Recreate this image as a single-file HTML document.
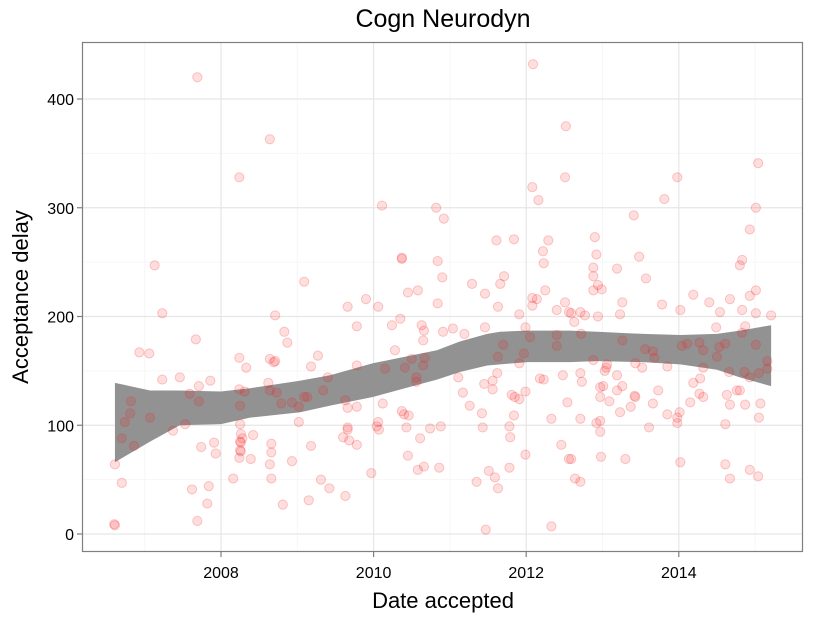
<!DOCTYPE html>
<html><head><meta charset="utf-8"><style>
html,body{margin:0;padding:0;background:#fff;}
svg{display:block;font-family:"Liberation Sans",Arial,sans-serif;}
</style></head><body>
<svg id="chart" width="825" height="618" viewBox="0 0 825 618">
<rect width="825" height="618" fill="#fff"/>
<g id="grid"></g>
<g id="band"></g>
<g id="pts"></g>
<rect x="82.5" y="42.5" width="720" height="509" fill="none" stroke="#7f7f7f" stroke-width="1.2"/>
<g id="axes"></g>
<text x="443" y="27" text-anchor="middle" font-size="25" fill="#000">Cogn Neurodyn</text>
<text x="443" y="608" text-anchor="middle" font-size="22" fill="#000">Date accepted</text>
<text transform="translate(28,297) rotate(-90)" text-anchor="middle" font-size="22" fill="#000">Acceptance delay</text>
</svg>
<script>
const yearVals=[2007.69,2008.64,2008.24,2007.13,2009.09,2007.23,2008.71,2007.67,2008.83,2008.87,2006.93,2007.06,2008.24,2008.64,2008.69,2008.71,2008.33,2009.27,2009.18,2007.23,2007.46,2007.71,2007.86,2007.59,2008.24,2008.31,2008.62,2008.64,2008.73,2009.40,2006.82,2007.71,2006.81,2006.74,2007.07,2007.53,2007.37,2006.70,2006.86,2008.25,2008.25,2008.79,2008.93,2009.02,2009.09,2009.13,2009.34,2009.02,2008.26,2008.28,2008.25,2008.26,2008.25,2008.26,2008.42,2007.91,2007.74,2007.93,2008.24,2008.39,2008.66,2008.66,2008.64,2008.93,2009.18,2006.61,2006.70,2008.16,2008.66,2007.62,2007.84,2009.31,2009.42,2007.82,2008.81,2009.15,2007.69,2006.61,2006.60,
2012.09,2012.52,2012.51,2012.08,2012.16,2010.11,2010.82,2010.92,2011.61,2011.84,2012.29,2012.22,2012.23,2010.37,2010.37,2010.84,2010.90,2011.29,2011.66,2011.71,2010.45,2010.58,2011.46,2012.25,2009.90,2009.66,2010.06,2010.84,2011.63,2012.08,2012.14,2012.08,2012.51,2012.40,2012.56,2009.78,2010.24,2010.35,2010.63,2010.66,2010.65,2010.91,2011.04,2011.19,2011.46,2011.91,2011.99,2012.05,2012.40,2012.40,2010.28,2010.50,2010.67,2010.41,2010.65,2010.15,2010.56,2010.56,2011.70,2011.63,2011.97,2011.91,2009.78,2009.63,2009.66,2009.78,2010.12,2011.11,2011.62,2011.56,2011.45,2011.56,2011.17,2011.26,2011.42,2011.81,2011.85,2011.91,2011.99,2011.84,2011.78,2011.79,2011.43,2012.18,2012.23,2012.48,2012.54,2012.33,2012.46,2012.56,2011.99,2010.37,2010.40,2010.46,2010.06,2010.04,2010.07,2010.43,2010.74,2010.88,2009.66,2009.66,2009.60,2009.68,2009.78,2010.61,2010.45,2009.97,2010.58,2010.66,2010.86,2011.78,2011.51,2011.59,2011.35,2011.63,2009.63,2011.47,2012.33,
2015.04,2013.98,2013.81,2015.01,2013.41,2014.93,2012.90,2012.92,2013.48,2014.83,2014.80,2013.19,2012.88,2012.88,2013.57,2012.94,2012.99,2012.88,2014.19,2015.01,2014.93,2014.67,2014.40,2013.26,2013.78,2014.02,2014.83,2014.54,2015.01,2015.21,2013.23,2012.59,2012.71,2012.77,2012.63,2012.94,2014.49,2014.87,2014.83,2012.72,2013.26,2013.56,2013.66,2013.68,2014.04,2014.11,2014.27,2014.32,2014.53,2014.61,2014.50,2015.01,2012.88,2013.43,2013.06,2013.05,2013.03,2013.19,2013.52,2013.85,2014.32,2014.66,2014.86,2015.05,2015.16,2015.16,2014.93,2012.71,2012.73,2014.28,2014.19,2013.01,2012.97,2013.26,2013.19,2012.97,2013.09,2013.42,2013.43,2013.73,2014.27,2014.32,2014.76,2014.80,2014.63,2014.67,2014.87,2015.07,2014.15,2013.66,2013.37,2013.23,2013.85,2014.01,2013.98,2013.98,2015.05,2014.61,2012.71,2012.97,2012.92,2012.97,2013.61,2012.59,2012.98,2013.30,2014.02,2014.61,2014.93,2015.04,2014.67,2012.64,2012.71];
const delayVals=[420,363,328,247,232,203,201,179,186,176,167,166,162,161,158,159,153,164,154,142,144,136,141,129,133,131,139,132,130,144,122,122,111,103,107,101,95,88,81,118,101,120,121,117,126,126,132,103,92,88,85,84,77,76,91,84,80,74,70,69,83,75,64,67,81,64,47,51,51,41,44,50,42,28,27,31,12,8,9,
432,375,328,319,307,302,300,290,270,271,270,260,249,254,253,251,236,230,230,237,222,224,221,224,216,209,209,212,209,217,216,210,213,206,204,191,192,198,192,187,178,186,189,184,190,202,190,181,183,173,169,161,162,153,155,152,144,140,174,163,166,157,155,123,116,117,120,144,148,141,138,133,130,118,111,128,126,124,131,109,99,89,98,143,142,146,121,106,82,69,73,113,110,109,103,99,96,98,97,99,98,96,89,86,82,88,72,56,59,62,61,61,58,52,48,42,35,4,7,
341,328,308,300,293,280,273,257,255,252,247,244,245,237,235,229,225,224,220,224,219,216,213,213,211,206,206,204,203,201,202,203,204,201,195,200,190,191,185,184,178,170,168,162,173,175,176,169,172,175,163,174,160,157,156,153,150,146,153,154,153,149,149,148,159,152,144,148,140,143,139,136,135,136,132,126,122,127,126,132,129,126,132,132,128,119,119,120,121,120,117,112,110,112,107,102,107,101,106,104,102,94,98,69,71,69,66,64,59,53,51,51,48];
const bandYears=[2006.61,2007.07,2007.46,2008.0,2008.38,2009.04,2009.43,2009.99,2010.83,2011.13,2011.49,2011.66,2012.01,2012.57,2012.93,2013.53,2014.02,2014.50,2014.80,2015.21];
const bandUpper=[139,132,132,131,134,141,146,157,169,177,184,186,187,187,186,184,183,184,187,192];
const bandLower=[66,85,100,101,107,112,118,126,142,149,155,156,158,158,159,158,156,151,144,136];
const xTicks=[2008,2010,2012,2014];
const xMinor=[2007,2009,2011,2013,2015];
const yTicks=[0,100,200,300,400];
const yMinor=[50,150,250,350];

const NS="http://www.w3.org/2000/svg";
function xS(v){return 221+(v-2008)*76.3;}
function yS(v){return 534-v*1.0875;}
function mk(tag,attrs,parent){const e=document.createElementNS(NS,tag);for(const k in attrs)e.setAttribute(k,attrs[k]);parent.appendChild(e);return e;}
const grid=document.getElementById('grid'),band=document.getElementById('band'),pts=document.getElementById('pts'),axes=document.getElementById('axes');
yMinor.forEach(v=>{const l=mk('line',{x1:83,x2:802,y1:yS(v),y2:yS(v),stroke:'#f6f6f6','stroke-width':1},grid);

});
xMinor.forEach(v=>{const l=mk('line',{x1:xS(v),x2:xS(v),y1:43,y2:551,stroke:'#f6f6f6','stroke-width':1},grid);

});
yTicks.forEach(v=>{const l=mk('line',{x1:83,x2:802,y1:yS(v),y2:yS(v),stroke:'#e6e6e6','stroke-width':1.2},grid);


const t=mk('line',{x1:77,x2:82,y1:yS(v),y2:yS(v),stroke:'#7f7f7f','stroke-width':1.2},axes);


const tx=mk('text',{x:74,y:yS(v)+6,'text-anchor':'end','font-size':16,fill:'#000'},axes);tx.textContent=v;

});
xTicks.forEach(v=>{const l=mk('line',{x1:xS(v),x2:xS(v),y1:43,y2:551,stroke:'#e6e6e6','stroke-width':1.2},grid);


const t=mk('line',{x1:xS(v),x2:xS(v),y1:552,y2:557,stroke:'#7f7f7f','stroke-width':1.2},axes);


const tx=mk('text',{x:xS(v),y:578,'text-anchor':'middle','font-size':16,fill:'#000'},axes);tx.textContent=v;

});
let d='';
bandYears.forEach((y,i)=>{d+=(i?'L':'M')+xS(y)+','+yS(bandUpper[i]);});
for(let i=bandYears.length-1;i>=0;i--)d+='L'+xS(bandYears[i])+','+yS(bandLower[i]);
const p=mk('path',{d:d+'Z',fill:'#929292'},band);


yearVals.forEach((y,i)=>{const c=mk('circle',{cx:xS(y),cy:yS(delayVals[i]),r:4.6,fill:'rgba(255,0,0,0.13)',stroke:'rgba(240,40,40,0.24)','stroke-width':1},pts);

});
</script>
</body></html>
